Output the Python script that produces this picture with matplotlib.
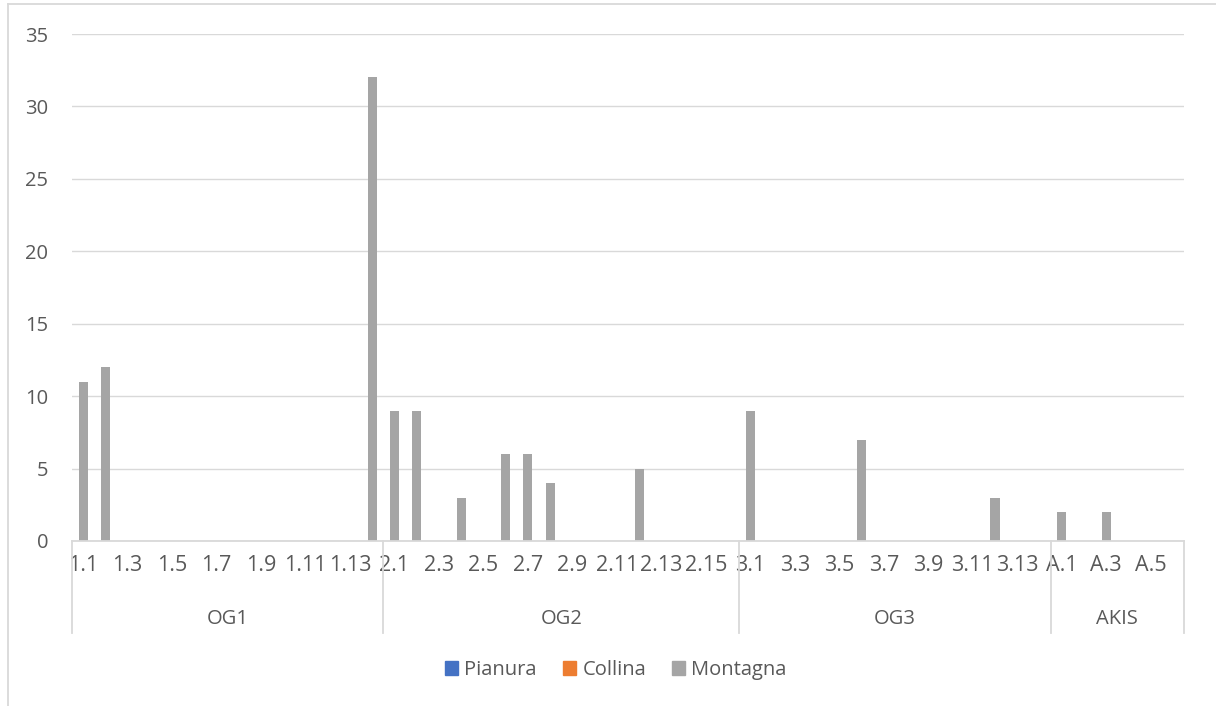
import matplotlib
matplotlib.use("Agg")
import matplotlib.pyplot as plt
from matplotlib.patches import Rectangle
from matplotlib.lines import Line2D

groups = ["OG1", "OG2", "OG3", "AKIS"]
group_sizes = [14, 16, 14, 6]
prefixes = ["1", "2", "3", "A"]
categories = [f"{p}.{i}" for p, n in zip(prefixes, group_sizes) for i in range(1, n + 1)]

montagna_values = {
    "1.1": 11, "1.2": 12, "1.14": 32,
    "2.1": 9, "2.2": 9, "2.4": 3, "2.6": 6, "2.7": 6, "2.8": 4, "2.12": 5,
    "3.1": 9, "3.6": 7, "3.12": 3,
    "A.1": 2, "A.3": 2,
}
pianura = [0] * len(categories)
collina = [0] * len(categories)
montagna = [montagna_values.get(c, 0) for c in categories]

series_names = ["Pianura", "Collina", "Montagna"]
colors = ["#4472C4", "#ED7D31", "#A5A5A5"]
yticks = [0, 5, 10, 15, 20, 25, 30, 35]

plt.rcParams['font.family'] = ['Open Sans', 'DejaVu Sans']
txt = "#595959"
grid = "#D9D9D9"
fs = 14.5

W, H = 1216, 706
fig = plt.figure(figsize=(W / 100, H / 100), dpi=100)
x0, x1, y0, y1 = 72, 1184, 541, 34
ax = fig.add_axes([x0 / W, 1 - y0 / H, (x1 - x0) / W, (y0 - y1) / H])

n = len(categories)
xs = list(range(n))
ax.bar(xs, montagna, width=0.41, color=colors[2], zorder=3)

ax.set_xlim(-0.5, n - 0.5)
ax.set_ylim(0, 35)
ax.set_yticks(yticks)
ax.set_yticklabels([str(v) for v in yticks], fontsize=fs, color=txt)
ax.tick_params(axis='y', length=0, pad=17)
ax.yaxis.grid(True, color=grid, linewidth=1.0, zorder=0)
for s in ["top", "right", "left"]:
    ax.spines[s].set_visible(False)
ax.spines["bottom"].set_color(grid)
ax.spines["bottom"].set_linewidth(1.3)
ax.spines["bottom"].set_zorder(4)

ax.set_xticks(xs[::2])
ax.set_xticklabels(categories[::2], fontsize=15.5, color=txt)
ax.tick_params(axis='x', length=0, pad=10)

# group level
trans = ax.get_xaxis_transform()
start = 0
bounds = [-0.5]
for g, size in zip(groups, group_sizes):
    center = start + (size - 1) / 2
    ax.text(center, -(619 - y0) / (y0 - y1), g, transform=trans, ha='center', va='center',
            fontsize=fs, color=txt)
    start += size
    bounds.append(start - 0.5)
for b in bounds:
    ax.add_line(Line2D([b, b], [0, -(633 - y0) / (y0 - y1)], transform=trans, color=grid,
                       linewidth=1.3, clip_on=False))

# legend
handles = [Rectangle((0, 0), 1, 1, color=c) for c in colors]
fig.legend(handles, series_names, loc='center', bbox_to_anchor=(616 / W, 1 - 670 / H),
           ncol=3, frameon=False, fontsize=fs, handlelength=0.65, handleheight=0.65,
           handletextpad=0.3, columnspacing=1.3, labelcolor=txt)

# chart area border
fig.add_artist(Line2D([8 / W, 1.0], [1 - 4 / H, 1 - 4 / H], color=grid, linewidth=1.3))
fig.add_artist(Line2D([8 / W, 8 / W], [0, 1 - 4 / H], color=grid, linewidth=1.3))

fig.savefig("out.png", dpi=100, facecolor="white")
